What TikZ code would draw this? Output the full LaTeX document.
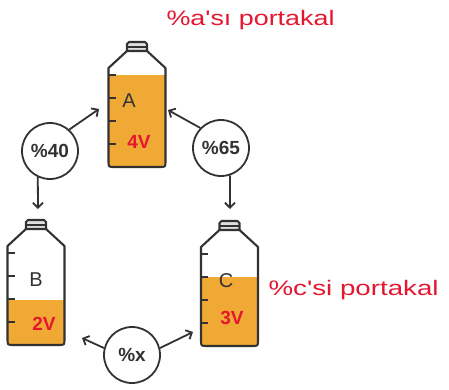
\documentclass[tikz,border=0pt]{standalone}
\usepackage{fontspec}
\usetikzlibrary{arrows.meta}
\newfontfamily\labfont{Liberation Sans}
\newfontfamily\notefont{Liberation Sans}
\definecolor{ink}{RGB}{50,50,50}
\definecolor{juice}{RGB}{241,169,53}
\definecolor{pen}{RGB}{228,22,48}
\tikzset{
  outline/.style={draw=ink, line width=2.1pt, line join=round},
  conn/.style={draw=ink, line width=1.8pt, -{Straight Barb[length=5pt,width=10pt,line width=1.8pt]}},
  ratio/.style={circle, draw=ink, line width=1.8pt, minimum size=56pt, inner sep=0pt,
    font=\labfont\bfseries\fontsize{19}{19}\selectfont, text=ink},
  tag/.style={font=\labfont\fontsize{20}{20}\selectfont, text=ink},
  vol/.style={font=\notefont\bfseries\fontsize{19}{19}\selectfont, text=pen},
  note/.style={font=\notefont\fontsize{21}{21}\selectfont, text=pen},
  pics/bottle/.style={code={
    % liquid, clipped to the body
    \begin{scope}
      \clip (-10,9) -- (-28.5,26) -- (-28.5,119) .. controls (-28.5,125) .. (-22.5,125)
        -- (22.5,125) .. controls (28.5,125) .. (28.5,119) -- (28.5,26) -- (10,9) -- cycle;
      \fill[juice] (-30,#1) rectangle (30,126);
    \end{scope}
    % body
    \draw[outline] (-10,9) -- (-28.5,26) -- (-28.5,119) .. controls (-28.5,125) .. (-22.5,125)
        -- (22.5,125) .. controls (28.5,125) .. (28.5,119) -- (28.5,26) -- (10,9);
    % cap
    \draw[outline, fill=ink!15] (-10,9) -- (-10,2) -- (-8,0) -- (8,0) -- (10,2) -- (10,9) -- cycle;
    \draw[ink, line width=1.3pt] (-10,5) -- (10,5);
    % scale marks
    \foreach \t in {33,56,79,102} \draw[outline] (-28.5,\t) -- ++(7,0);
  }}
}
\begin{document}
\begin{tikzpicture}[x=1pt, y=-1pt]
\useasboundingbox (0,0) rectangle (449,390);

% bottles
\pic at (137,42) {bottle=33};
\pic at (36,220) {bottle=80};
\pic at (229.5,221) {bottle=56};

% bottle labels
\node[tag] (la) at (129,101) {A};
\node[tag] (lb) at (36,280) {B};
\node[tag] (lc) at (226,281) {C};
\node[vol] (va) at (139,142) {4V};
\node[vol] (vb) at (44,324) {2V};
\node[vol] (vc) at (232,318) {3V};

% mixing ratios
\node[ratio] (c40) at (50,151) {\%40};
\node[ratio] (c65) at (221,148) {\%65};
\node[ratio] (cx) at (132,355) {\%x};

% arrow targets
\coordinate (aL) at (99,109);
\coordinate (aR) at (168,110);
\coordinate (bT) at (38,209);
\coordinate (cT) at (230,209);
\coordinate (bR) at (82,338);
\coordinate (cL) at (193,332);

\draw[conn] (c40.48) -- (aL);
\draw[conn] (c40.245) -- (bT);
\draw[conn] (c65.136) -- (aR);
\draw[conn] (c65.288) -- (cT);
\draw[conn] (cx.166) -- (bR);
\draw[conn] (cx.14) -- (cL);

% notes
\node[note, anchor=west] (na) at (163,20) {\scalebox{1.28}[1]{\%a'sı portakal}};
\node[note, anchor=west] (nc) at (265,290) {\scalebox{1.32}[1]{\%c'si portakal}};
\end{tikzpicture}
\end{document}
